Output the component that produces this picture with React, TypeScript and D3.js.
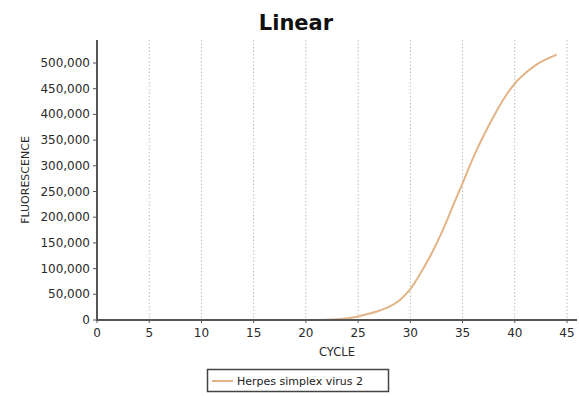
import React from "react";
import * as d3 from "d3";

const cycles: number[] = Array.from({ length: 44 }, (_, i) => i + 1);
const fluorescence: number[] = [
  0, 0, 0, 0, 0, 0, 0, 0, 0, 0,
  0, 0, 0, 0, 0, 0, 0, 0, 0, 100,
  200, 500, 1500, 3500, 7000, 12000, 18000, 26000, 39000, 60000,
  92000, 128000, 170000, 218000, 266000, 315000, 358000, 397000, 432000, 460000,
  480000, 496000, 507000, 516000,
];
const xTicks: number[] = [0, 5, 10, 15, 20, 25, 30, 35, 40, 45];
const yTicks: number[] = [0, 50000, 100000, 150000, 200000, 250000, 300000, 350000, 400000, 450000, 500000];
const seriesName = "Herpes simplex virus 2";
const title = "Linear";
const xLabel = "CYCLE";
const yLabel = "FLUORESCENCE";

export default function App() {
  const W = 579, H = 396;
  const left = 97, right = 577, top = 40, bottom = 320;
  const x = d3.scaleLinear().domain([0, 46]).range([left, left + (46 / 45) * 470]);
  const y = d3.scaleLinear().domain([0, 500000]).range([bottom, 63]);
  const fmt = d3.format(",");
  const line = d3
    .line<number>()
    .x((_, i) => x(cycles[i]))
    .y((d) => y(d))
    .curve(d3.curveMonotoneX);
  const font = "DejaVu Sans, sans-serif";
  return (
    <svg width={W} height={H} style={{ position: "absolute", left: 0, top: 0, background: "#fff" }} fontFamily={font}>
      <text x={296} y={30} textAnchor="middle" fontSize={21} fontWeight="bold" fill="#111">{title}</text>
      {xTicks.filter((t) => t > 0).map((t) => (
        <line key={"g" + t} x1={x(t)} x2={x(t)} y1={top} y2={bottom} stroke="#bbb" strokeWidth={1} strokeDasharray="1.5,2" />
      ))}
      <path d={line(fluorescence) || ""} fill="none" stroke="#e3b487" strokeWidth={2} />
      <line x1={left} x2={left} y1={top} y2={bottom + 1} stroke="#555" strokeWidth={2} />
      <line x1={left - 1} x2={right} y1={bottom} y2={bottom} stroke="#555" strokeWidth={2} />
      {yTicks.map((t) => (
        <g key={"y" + t}>
          <line x1={left - 4} x2={left} y1={y(t)} y2={y(t)} stroke="#555" strokeWidth={1} />
          <text x={left - 7} y={y(t) + 4} textAnchor="end" fontSize={12} fill="#2a2a2a">{fmt(t)}</text>
        </g>
      ))}
      {xTicks.map((t) => (
        <g key={"x" + t}>
          <line x1={x(t)} x2={x(t)} y1={bottom} y2={bottom + 3} stroke="#555" strokeWidth={1} />
          <text x={x(t)} y={bottom + 17} textAnchor="middle" fontSize={12} fill="#2a2a2a">{t}</text>
        </g>
      ))}
      <text x={337} y={356} textAnchor="middle" fontSize={11.5} fill="#2a2a2a">{xLabel}</text>
      <text transform={`translate(29,180) rotate(-90)`} textAnchor="middle" fontSize={11} fill="#2a2a2a">{yLabel}</text>
      <rect x={207.5} y={369.5} width={181} height={22} fill="#fff" stroke="#444" strokeWidth={1.5} />
      <line x1={212} x2={233} y1={381} y2={381} stroke="#e3b487" strokeWidth={2} />
      <text x={237} y={385} fontSize={11} fill="#222">{seriesName}</text>
    </svg>
  );
}
